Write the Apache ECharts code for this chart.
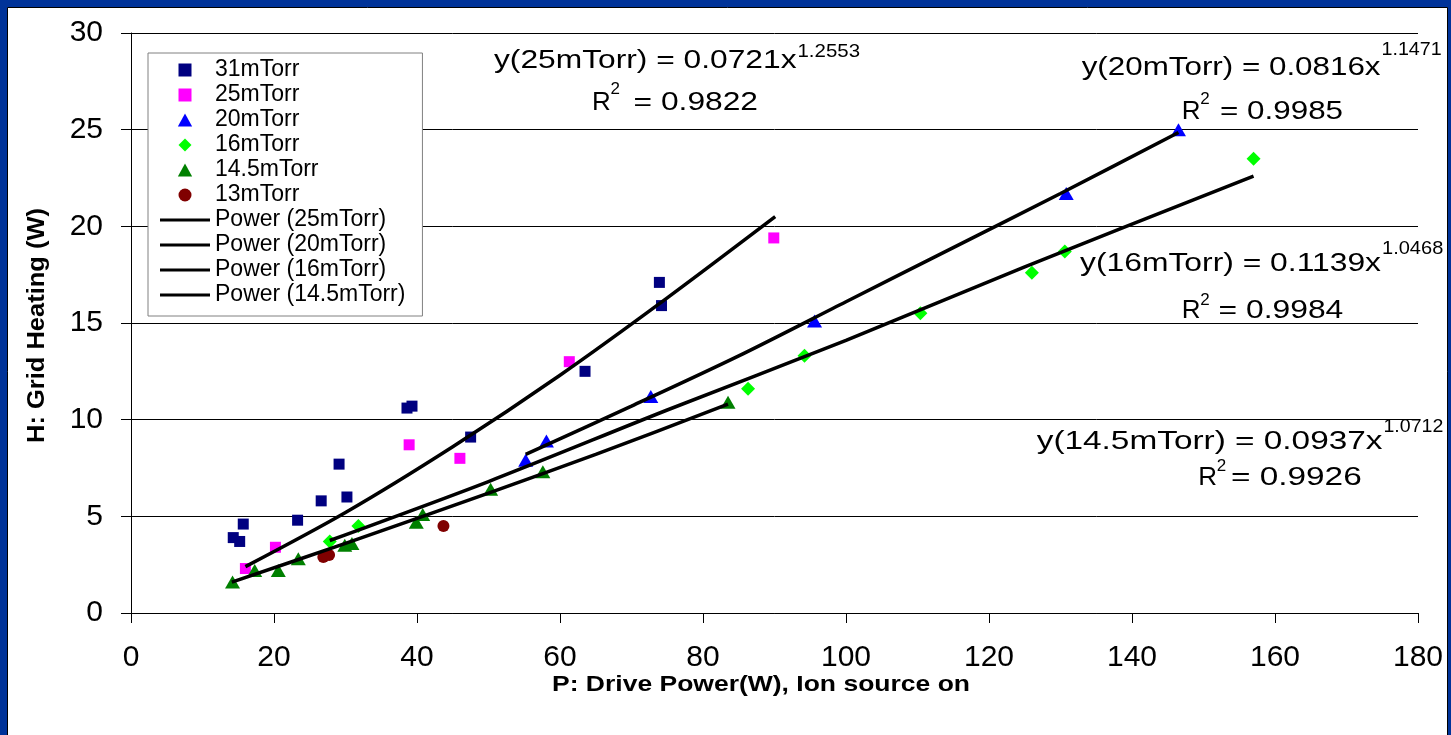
<!DOCTYPE html>
<html>
<head>
<meta charset="utf-8">
<script src="https://cdn.jsdelivr.net/npm/echarts@6/dist/echarts.min.js"></script>
<style>
  html, body { margin: 0; padding: 0; background: #003399; }
  #chart { width: 1451px; height: 735px; }
</style>
</head>
<body>
<div id="chart"></div>
<script>
// measured data, P: drive power (W) / H: grid heating (W)
const p31 = [14.3, 15.2, 15.7, 23.3, 26.6, 29.1, 30.2, 38.6, 39.3, 47.5, 63.5, 73.9, 74.2];
const h31 = [3.9, 3.7, 4.6, 4.8, 5.8, 7.7, 6.0, 10.6, 10.7, 9.1, 12.5, 17.1, 15.9];
const p25 = [16.0, 20.2, 38.9, 46.0, 61.3, 89.9];
const h25 = [2.3, 3.4, 8.7, 8.0, 13.0, 19.4];
const p20 = [55.2, 58.1, 72.7, 95.6, 130.8, 146.5];
const h20 = [7.9, 8.9, 11.2, 15.1, 21.7, 25.0];
const p16 = [27.8, 31.8, 86.3, 94.2, 110.4, 126.0, 130.6, 157.0];
const h16 = [3.7, 4.5, 11.6, 13.3, 15.5, 17.6, 18.7, 23.5];
const p145 = [14.2, 17.3, 20.6, 23.4, 29.9, 30.9, 39.9, 40.8, 50.3, 57.6, 83.5];
const h145 = [1.6, 2.2, 2.2, 2.8, 3.5, 3.6, 4.7, 5.1, 6.4, 7.3, 10.9];
const p13 = [26.9, 27.7, 43.7];
const h13 = [2.9, 3.0, 4.5];

// power trendlines
const fitP25 = [16, 30, 45, 60, 75, 90.1];
const fitH25 = [2.4, 5.2, 8.6, 12.3, 16.3, 20.5];
const fitP20 = [55.2, 70, 85, 100, 115, 130, 146.5];
const fitH20 = [8.2, 10.7, 13.3, 16.1, 18.9, 21.7, 24.85];
const fitP16 = [27.8, 50, 75, 100, 125, 157];
const fitH16 = [3.75, 6.8, 10.5, 14.1, 17.9, 22.6];
const fitP145 = [14.1, 30, 50, 65, 83.5];
const fitH145 = [1.6, 3.6, 6.2, 8.2, 10.8];

const seriesNames = ['31mTorr', '25mTorr', '20mTorr', '16mTorr', '14.5mTorr', '13mTorr'];
const fitNames = ['Power (25mTorr)', 'Power (20mTorr)', 'Power (16mTorr)', 'Power (14.5mTorr)'];
const fitEq = ['y(25mTorr) = 0.0721x', 'y(20mTorr) = 0.0816x', 'y(16mTorr) = 0.1139x', 'y(14.5mTorr) = 0.0937x'];
const fitExp = ['1.2553', '1.1471', '1.0468', '1.0712'];
const fitR2 = ['= 0.9822', '= 0.9985', '= 0.9984', '= 0.9926'];

const xTicks = [0, 180, 20];
const yTicks = [0, 30, 5];

const FONT = "'Liberation Sans', Arial, sans-serif";

function zip(a, b) { return a.map((v, i) => [v, b[i]]); }

const mctx = document.createElement('canvas').getContext('2d');
function fitScale(txt, size, weight, w) {
    mctx.font = (weight || 'normal') + ' ' + size + 'px ' + FONT;
    return w / mctx.measureText(txt).width;
}

// where the equation labels sit
const eqPos = [
    { ml: 494, mr: 796.5, my: 61, sr: 860, sy: 51.7, rl: 592, ry: 102.7, ty: 89.5, er: 758 },
    { ml: 1081.7, mr: 1380.5, my: 67.5, sr: 1441.7, sy: 50.1, rl: 1181.7, ry: 111.7, ty: 99, er: 1343 },
    { ml: 1080, mr: 1381, my: 264.3, sr: 1443.3, sy: 248.4, rl: 1181.7, ry: 311, ty: 300.5, er: 1343.3 },
    { ml: 1036.7, mr: 1382.5, my: 441.7, sr: 1443.3, sy: 426.7, rl: 1198.3, ry: 478.3, ty: 466, er: 1361.7 }
];

function txt(text, x, y, size, opts) {
    opts = opts || {};
    return {
        type: 'text',
        x: x, y: y,
        rotation: opts.rotation || 0,
        scaleX: opts.scaleX || 1,
        z: 20,
        style: {
            text: text,
            font: (opts.weight || 'normal') + ' ' + size + 'px ' + FONT,
            fill: '#000',
            align: opts.align || 'left',
            verticalAlign: 'middle'
        }
    };
}

let graphics = [{
    type: 'rect', z: -10, silent: true,
    shape: { x: 7.5, y: 7.5, width: 1440, height: 740 },
    style: { fill: '#fff', stroke: '#000', lineWidth: 1 }
}];

eqPos.forEach((p, i) => {
    let s = fitScale(fitEq[i], 26, 'normal', p.mr - p.ml);
    graphics.push(txt(fitEq[i], p.ml, p.my, 26, { scaleX: s }));
    let ss = fitScale(fitExp[i], 19, 'normal', p.sr - p.mr - 1);
    graphics.push(txt(fitExp[i], p.mr + 1, p.sy, 19, { scaleX: ss }));
    graphics.push(txt('R', p.rl, p.ry, 26));
    graphics.push(txt('2', p.rl + 18.5, p.ty, 17));
    graphics.push(txt(fitR2[i], p.er, p.ry, 26, { scaleX: s, align: 'right' }));
});

// axis titles
const xName = 'P: Drive Power(W), Ion source on';
const yName = 'H: Grid Heating (W)';
graphics.push(txt(xName, 552, 685, 22, { weight: 'bold', scaleX: fitScale(xName, 22, 'bold', 418) }));
graphics.push(txt(yName, 37, 325.5, 24, { weight: 'bold', align: 'center', rotation: Math.PI / 2,
    scaleX: fitScale(yName, 24, 'bold', 235) }));

const markers = [
    { symbol: 'rect', size: 11, color: '#000080', icon: 'path://M0,0H10V10H0Z' },
    { symbol: 'rect', size: 11, color: '#ff00ff', icon: 'path://M0,0H10V10H0Z' },
    { symbol: 'triangle', size: [15, 13], color: '#0000ff', icon: 'path://M5.5,0L11,10H0Z' },
    { symbol: 'diamond', size: 14, color: '#00ff00', icon: 'path://M5,0L10,5L5,10L0,5Z' },
    { symbol: 'triangle', size: [15, 13], color: '#008000', icon: 'path://M5.5,0L11,10H0Z' },
    { symbol: 'circle', size: 12, color: '#800000', icon: 'path://M5,0A5,5,0,1,1,5,10A5,5,0,1,1,5,0Z' }
];
const pts = [zip(p31, h31), zip(p25, h25), zip(p20, h20), zip(p16, h16), zip(p145, h145), zip(p13, h13)];
const fits = [zip(fitP25, fitH25), zip(fitP20, fitH20), zip(fitP16, fitH16), zip(fitP145, fitH145)];

let series = [];
seriesNames.forEach((n, i) => {
    series.push({
        name: n,
        type: 'scatter',
        data: pts[i],
        symbol: markers[i].symbol,
        symbolSize: markers[i].size,
        itemStyle: { color: markers[i].color, opacity: 1 },
        z: 3
    });
});
fitNames.forEach((n, i) => {
    series.push({
        name: n,
        type: 'line',
        data: fits[i],
        smooth: 0.3,
        symbol: 'none',
        showSymbol: false,
        lineStyle: { color: '#000', width: 3.5 },
        itemStyle: { color: '#000' },
        z: 4
    });
});

// legend entries: scatter ones keep their symbol, trendlines get a flat bar
let legendData = seriesNames.map((n, i) => ({ name: n, icon: markers[i].icon }));
fitNames.forEach(n => legendData.push({ name: n, icon: 'path://M0,0H50V3.2H0Z' }));

const chart = echarts.init(document.getElementById('chart'));
chart.setOption({
    backgroundColor: '#003399',
    animation: false,
    grid: { left: 131, right: 33, top: 33, bottom: 122, containLabel: false },
    legend: {
        orient: 'vertical',
        left: 148,
        top: 53,
        padding: [4.5, 17, 8.5, 12],
        itemWidth: 50,
        itemHeight: 13,
        itemGap: 0,
        itemTextGap: 5,
        symbolKeepAspect: true,
        selectedMode: false,
        backgroundColor: '#fff',
        borderColor: '#808080',
        borderWidth: 1,
        textStyle: { fontFamily: FONT, fontSize: 23, color: '#000', lineHeight: 25 },
        data: legendData
    },
    xAxis: {
        type: 'value',
        min: xTicks[0], max: xTicks[1], interval: xTicks[2],
        axisLine: { show: true, onZero: false, lineStyle: { color: '#000', width: 1 } },
        axisTick: { show: true, length: 10, lineStyle: { color: '#000' } },
        axisLabel: { fontFamily: FONT, fontSize: 30, color: '#000', margin: 30 },
        splitLine: { show: false }
    },
    yAxis: {
        type: 'value',
        min: yTicks[0], max: yTicks[1], interval: yTicks[2],
        axisLine: { show: true, onZero: false, lineStyle: { color: '#000', width: 1 } },
        axisTick: { show: true, length: 10, lineStyle: { color: '#000' } },
        axisLabel: { fontFamily: FONT, fontSize: 30, color: '#000', margin: 28 },
        splitLine: { show: true, lineStyle: { color: '#000', width: 1 } }
    },
    graphic: graphics,
    series: series
});
</script>
</body>
</html>
